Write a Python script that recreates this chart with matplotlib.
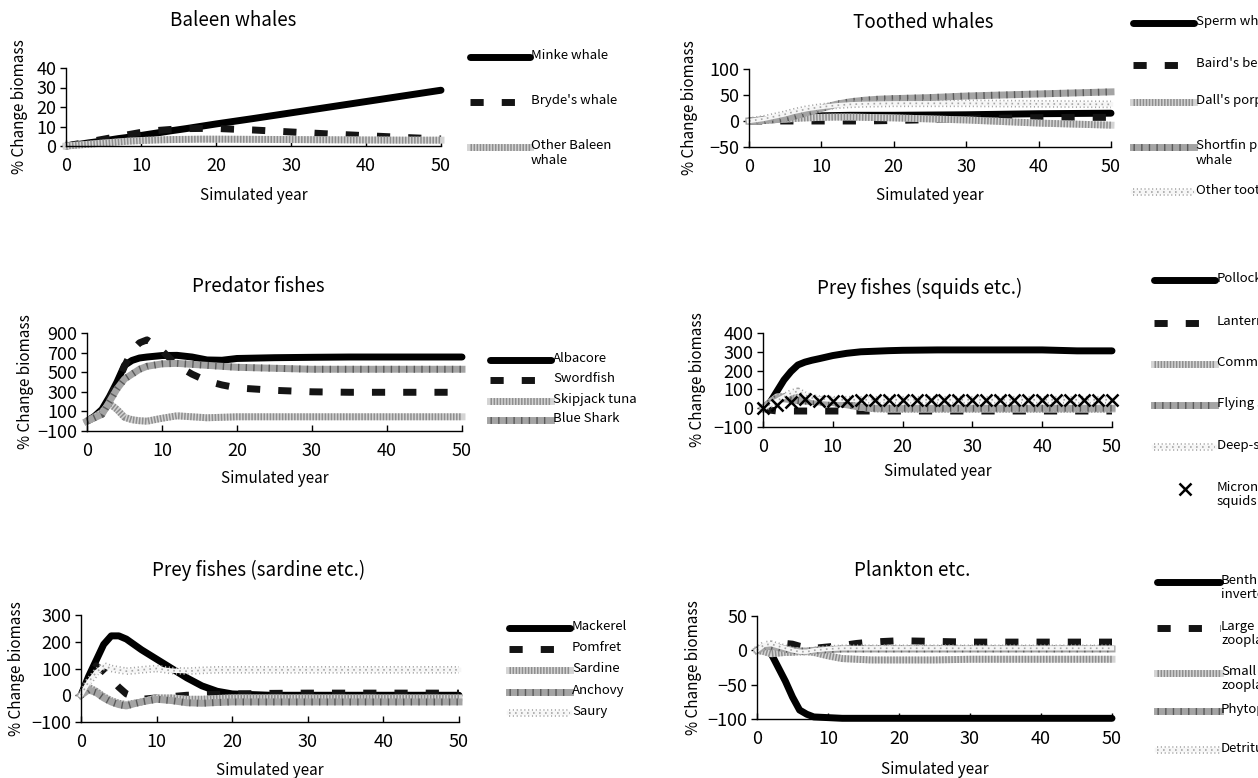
import matplotlib
matplotlib.use('Agg')
import matplotlib.pyplot as plt
from matplotlib.lines import Line2D
from matplotlib.transforms import Affine2D

plt.rcParams['font.family'] = ['Noto Sans CJK JP', 'DejaVu Sans']

W, H = 1258, 778
DPI = 100

# ------ data (% change in biomass per simulated year) ------------------------

years = [0, 1, 2, 3, 4, 5, 6, 7, 8, 10, 12, 14, 16, 18, 20, 25, 30, 35, 40, 45, 50]

# baleen whales
minke = [0, 0.5, 1, 1.6, 2.1, 2.7, 3.2, 3.8, 4.3, 5.4, 6.6, 7.8, 8.9, 10.1, 11.3, 14.1, 17.0, 19.9, 22.8, 25.7, 28.6]
brydes = [0, 0.7, 1.4, 2.1, 2.8, 3.5, 4.2, 4.9, 5.6, 7.0, 7.9, 8.5, 8.9, 9.0, 9.0, 8.2, 7.2, 6.2, 5.3, 4.4, 3.6]
other_baleen = [0, 0.3, 0.6, 0.9, 1.2, 1.5, 1.8, 2.1, 2.4, 2.8, 3.1, 3.3, 3.4, 3.5, 3.5, 3.4, 3.3, 3.2, 3.1, 3.0, 3.0]

# toothed whales
sperm = [0, 1, 2, 3, 4, 5, 6.5, 8, 9, 10, 10.5, 11, 11, 11, 11, 11.5, 12, 13, 14, 14.5, 15]
bairds = [0, 0, 0, 0, 0, 0, 0, 0, 0, 0, 0, 0, 0, 0.5, 1, 2.5, 4, 5.5, 6.5, 7, 7]
dalls = [0, 0.5, 1, 2, 3, 3.5, 4.5, 5.5, 6, 7, 7.5, 7.5, 7, 6.5, 6, 4, 2, -1, -4, -6, -8]
shortfin = [0, 0.5, 1, 2, 3, 5, 8, 12, 16, 24, 32, 37, 40, 42, 43, 45, 48, 50, 52, 54, 56]
other_toothed = [0, 2, 4, 7, 10, 13, 17, 20, 23, 27, 30, 32, 33, 33.5, 34, 34, 34, 33.5, 33, 32.5, 32]

# predator fishes
albacore = [0, 50, 120, 250, 400, 570, 620, 645, 655, 670, 672, 655, 625, 622, 640, 648, 652, 655, 655, 655, 655]
swordfish = [0, 40, 110, 230, 380, 560, 720, 800, 830, 720, 570, 480, 410, 370, 340, 315, 300, 295, 295, 295, 295]
skipjack = [0, 40, 90, 180, 120, 40, 15, 5, 0, 30, 55, 45, 35, 40, 45, 45, 45, 45, 45, 45, 45]
blue_shark = [0, 35, 70, 200, 330, 430, 480, 530, 560, 585, 590, 580, 570, 560, 550, 540, 530, 530, 530, 530, 530]

# prey fishes (squids etc.)
pollock = [0, 30, 90, 150, 195, 230, 245, 255, 263, 280, 292, 300, 303, 306, 308, 310, 310, 310, 310, 305, 305]
lanternfish = [0, -10, -15, -15, -15, -15, -15, -15, -15, -15, -15, -15, -15, -15, -15, -15, -15, -15, -15, -15, -15]
common_squid = [0, 30, 60, 62, 62, 58, 52, 48, 45, 40, 25, 5, -3, -5, -5, -5, -5, -5, -5, -5, -5]
flying_squid = [0, 30, 55, 50, 45, 40, 38, 35, 33, 30, 18, 5, 0, 0, 0, 0, 0, 0, 0, 0, 0]
deep_sea = [0, 20, 40, 60, 80, 90, 70, 55, 50, 45, 45, 45, 45, 45, 45, 45, 45, 45, 45, 45, 45]
micro_years = list(range(0, 51, 2))
micronekton = [0, 15, 35, 48, 40, 38, 40, 42, 42, 42, 42, 42, 42, 42, 42, 42, 42, 42, 42, 42, 42, 42, 42, 42, 42, 42]

# prey fishes (sardine etc.)
mackerel = [0, 70, 130, 190, 222, 222, 210, 190, 170, 135, 100, 65, 35, 15, 5, 0, 0, 0, 0, 0, 0]
pomfret = [0, 60, 110, 90, 60, 30, 5, -5, -15, -10, -5, 0, 2, 4, 5, 7, 8, 8, 8, 8, 8]
sardine = [0, 30, 15, -5, -20, -30, -35, -30, -25, -10, -10, -15, -15, -12, -10, -10, -10, -10, -10, -10, -10]
anchovy = [0, 20, 10, -10, -25, -35, -40, -32, -25, -15, -20, -28, -30, -27, -25, -25, -25, -25, -25, -25, -25]
saury = [0, 50, 85, 110, 100, 95, 90, 92, 95, 100, 92, 90, 93, 95, 95, 95, 95, 95, 95, 95, 95]

# plankton etc.
benthic = [0, 0, -5, -25, -45, -68, -87, -93, -97, -98, -99, -99, -99, -99, -99, -99, -99, -99, -99, -99, -99]
large_zoo = [0, 2, 5, 8, 10, 9, 6, 4, 3, 5, 7, 10, 12, 13, 14, 13, 12, 12, 12, 12, 12]
small_zoo = [0, -2, -5, -4, -3, -3, -2, -2, -3, -8, -12, -13, -14, -14, -14, -14, -13, -13, -13, -13, -13]
phyto = [0, 5, 6, 4, 2, 0, -1, -1, 0, 1, 2, 2, 2, 2, 2, 2, 2, 2, 2, 2, 2]
detritus = [0, 8, 9, 6, 3, 0, -2, -2, 0, 2, 3, 3, 3, 3, 3, 3, 3, 3, 3, 3, 3]


# ------ line styles ------------------------------------------------------------

def line_specs(kind):
    # each style is one or more stacked line layers
    if kind == 'solid':
        return [dict(color='black', lw=5, solid_capstyle='round')]
    if kind == 'dash':
        return [dict(color='#141414', lw=5, dashes=(1.9, 2.6), dash_capstyle='butt')]
    if kind == 'fine':
        return [dict(color='#d4d4d4', lw=5),
                dict(color='#8e8e8e', lw=5, dashes=(0.22, 0.22), dash_capstyle='butt')]
    if kind == 'dark':
        return [dict(color='#a4a4a4', lw=5),
                dict(color='#5a5a5a', lw=5, dashes=(0.2, 0.9), dash_capstyle='butt')]
    if kind == 'sparse':
        return [dict(color='#a6a6a6', lw=5.5, dashes=(0.15, 0.35), dash_capstyle='butt'),
                dict(color='#f6f6f6', lw=3.2),
                dict(color='#a6a6a6', lw=1.2, dashes=(1, 2.6), dash_capstyle='butt')]
    if kind == 'cross':
        return [dict(color='black', ls='none', marker='x', ms=8, mew=1.8)]


def draw_series(ax, x, y, kind):
    for spec in line_specs(kind):
        ax.plot(x, y, clip_on=False, **spec)


def draw_key(fig, tr, kind, x0, x1, y, label, tx):
    xs = [(x0 + x1) / 2] if kind == 'cross' else [x0, x1]
    for spec in line_specs(kind):
        fig.add_artist(Line2D(xs, [y] * len(xs), transform=tr, **spec))
    fig.text(tx, y - 8, label, transform=tr, ha='left', va='top',
             fontsize=9.5, linespacing=1.15)


fig = plt.figure(figsize=(W / DPI, H / DPI), dpi=DPI)
px = Affine2D().scale(1 / W, -1 / H).translate(0, 1) + fig.transFigure


def make_panel(box, ylim, yticks, title, title_xy, ylabel_x, xlabel_y):
    x0, x1, ytop, ybot = box
    ax = fig.add_axes([x0 / W, 1 - ybot / H, (x1 - x0) / W, (ybot - ytop) / H])
    ax.set_xlim(0, 50)
    ax.set_ylim(*ylim)
    ax.set_xticks(range(0, 51, 10))
    ax.set_yticks(yticks)
    ax.set_yticklabels([str(t).replace('-', '\u2212') for t in yticks])
    for side in ('top', 'right'):
        ax.spines[side].set_visible(False)
    for side in ('left', 'bottom'):
        ax.spines[side].set_linewidth(1.0)
    ax.tick_params(axis='x', direction='in', length=4, width=1, labelsize=13, pad=8)
    ax.tick_params(axis='y', direction='out', length=4, width=1, labelsize=13, pad=3)
    ax.set_xlabel('Simulated year', fontsize=11, va='center')
    ax.xaxis.set_label_coords((x0 + x1) / 2, xlabel_y, transform=px)
    ax.set_ylabel('% Change biomass', fontsize=11, va='center')
    ax.yaxis.set_label_coords(ylabel_x, (ytop + ybot) / 2, transform=px)
    fig.text(title_xy[0], title_xy[1], title, transform=px, ha='center',
             va='center', fontsize=13.5)
    return ax


# ------ baleen whales ----------------------------------------------------------

ax = make_panel((66, 441, 68, 146), (0, 40), [0, 10, 20, 30, 40],
                'Baleen whales', (233, 20), 20, 196)
draw_series(ax, years, minke, 'solid')
draw_series(ax, years, brydes, 'dash')
draw_series(ax, years, other_baleen, 'fine')
for kind, label, y in [('solid', 'Minke whale', 57),
                       ('dash', "Bryde's whale", 102),
                       ('fine', 'Other Baleen\nwhale', 147)]:
    draw_key(fig, px, kind, 470, 530, y, label, 531)

# ------ toothed whales ---------------------------------------------------------

ax = make_panel((749, 1111, 69, 147), (-50, 100), [-50, 0, 50, 100],
                'Toothed whales', (923, 22), 690, 195)
draw_series(ax, years, sperm, 'solid')
draw_series(ax, years, bairds, 'dash')
draw_series(ax, years, dalls, 'fine')
draw_series(ax, years, shortfin, 'dark')
draw_series(ax, years, other_toothed, 'sparse')
for kind, label, y in [('solid', 'Sperm whale', 23),
                       ('dash', "Baird's beaked whale", 65),
                       ('fine', "Dall's porpoise", 102),
                       ('dark', 'Shortfin pilot\nwhale', 147),
                       ('sparse', 'Other toothed whale', 192)]:
    draw_key(fig, px, kind, 1133, 1194, y, label, 1196)

# ------ predator fishes --------------------------------------------------------

ax = make_panel((87, 462, 333, 431), (-100, 900), [-100, 100, 300, 500, 700, 900],
                'Predator fishes', (258, 287), 25, 479)
draw_series(ax, years, albacore, 'solid')
draw_series(ax, years, swordfish, 'dash')
draw_series(ax, years, skipjack, 'fine')
draw_series(ax, years, blue_shark, 'dark')
for kind, label, y in [('solid', 'Albacore', 360),
                       ('dash', 'Swordfish', 380),
                       ('fine', 'Skipjack tuna', 401),
                       ('dark', 'Blue Shark', 420)]:
    draw_key(fig, px, kind, 490, 551, y, label, 553)

# ------ prey fishes (squids etc.) ----------------------------------------------

ax = make_panel((763, 1112, 333, 427), (-100, 400), [-100, 0, 100, 200, 300, 400],
                'Prey fishes (squids etc.)', (920, 288), 698, 472)
draw_series(ax, years, pollock, 'solid')
draw_series(ax, years, lanternfish, 'dash')
draw_series(ax, years, common_squid, 'fine')
draw_series(ax, years, flying_squid, 'dark')
draw_series(ax, years, deep_sea, 'sparse')
draw_series(ax, micro_years, micronekton, 'cross')
for kind, label, y in [('solid', 'Pollock', 280),
                       ('dash', 'Lanternfish', 323),
                       ('fine', 'Common squid', 364),
                       ('dark', 'Flying squid', 405),
                       ('sparse', 'Deep-sea smelt', 447),
                       ('cross', 'Micronekton\nsquids', 489)]:
    draw_key(fig, px, kind, 1154, 1215, y, label, 1217)

# ------ prey fishes (sardine etc.) ---------------------------------------------

ax = make_panel((81, 459, 615, 722), (-100, 300), [-100, 0, 100, 200, 300],
                'Prey fishes (sardine etc.)', (259, 570), 17, 771)
draw_series(ax, years, mackerel, 'solid')
draw_series(ax, years, pomfret, 'dash')
draw_series(ax, years, sardine, 'fine')
draw_series(ax, years, anchovy, 'dark')
draw_series(ax, years, saury, 'sparse')
for kind, label, y in [('solid', 'Mackerel', 628),
                       ('dash', 'Pomfret', 649),
                       ('fine', 'Sardine', 670),
                       ('dark', 'Anchovy', 692),
                       ('sparse', 'Saury', 713)]:
    draw_key(fig, px, kind, 509, 570, y, label, 572)

# ------ plankton etc. ----------------------------------------------------------

ax = make_panel((757, 1112, 616, 719), (-100, 50), [-100, -50, 0, 50],
                'Plankton etc.', (912, 571), 693, 770)
draw_series(ax, years, benthic, 'solid')
draw_series(ax, years, large_zoo, 'dash')
draw_series(ax, years, small_zoo, 'fine')
draw_series(ax, years, phyto, 'dark')
draw_series(ax, years, detritus, 'sparse')
for kind, label, y in [('solid', 'Benthic\ninvertebrates', 582),
                       ('dash', 'Large\nzooplankton', 628),
                       ('fine', 'Small\nzooplankton', 673),
                       ('dark', 'Phytoplankton', 711),
                       ('sparse', 'Detritus', 750)]:
    draw_key(fig, px, kind, 1157, 1220, y, label, 1221)

fig.savefig('out.png', dpi=DPI)
